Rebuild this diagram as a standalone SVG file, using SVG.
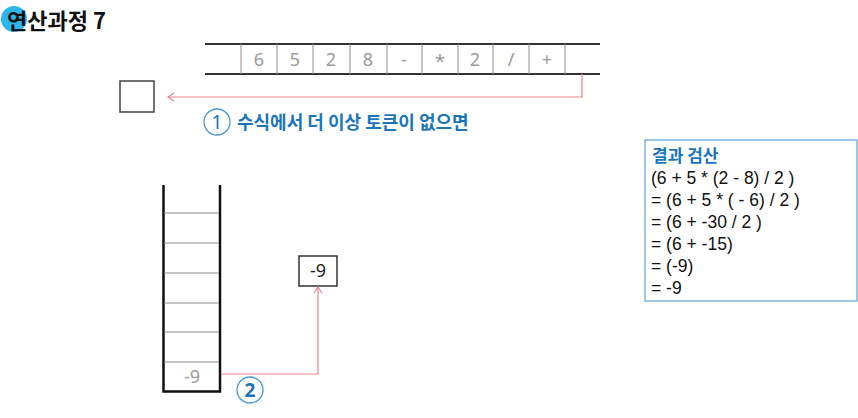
<svg xmlns="http://www.w3.org/2000/svg" width="858" height="418" viewBox="0 0 858 418">
<defs>
<style>
.k{font-family:"Noto Sans CJK KR","Noto Sans",sans-serif}
.tok{font-family:"Noto Sans","Noto Sans CJK KR",sans-serif;font-size:18px;fill:#9a9a9a;text-anchor:middle}
.cell{stroke:#8c8c8c;stroke-width:1}
.rail{stroke:#333;stroke-width:2}
.red{fill:none;stroke:#e8858a;stroke-width:1.2}
.num{fill:#fff;stroke:#4a9ad6;stroke-width:1.3}
.numt{font-family:"Noto Sans","Noto Sans CJK KR",sans-serif;font-size:19px;fill:#1a75bb;text-anchor:middle}
.res{font-family:"Liberation Sans",Arial,sans-serif;font-size:17.5px;fill:#111}
</style>
<marker id="ah" markerWidth="10" markerHeight="10" refX="7" refY="5" orient="auto" markerUnits="userSpaceOnUse">
<path d="M1,1 L7,5 L1,9" fill="none" stroke="#e8858a" stroke-width="1.2"/>
</marker>
</defs>
<rect width="858" height="418" fill="#fff"/>
<g id="title">
<circle cx="14" cy="19" r="13" fill="#2cb5ee"/>
<text x="7" y="29" class="k" font-size="22" font-weight="bold" fill="#111">연산과정 7</text>
</g>
<g id="tokens">
<line class="rail" x1="205" y1="44" x2="600" y2="44"/>
<line class="rail" x1="205" y1="74" x2="600" y2="74"/>
<g class="cell">
<line x1="241" y1="44" x2="241" y2="74"/><line x1="277" y1="44" x2="277" y2="74"/><line x1="313" y1="44" x2="313" y2="74"/><line x1="350" y1="44" x2="350" y2="74"/><line x1="387" y1="44" x2="387" y2="74"/><line x1="422" y1="44" x2="422" y2="74"/><line x1="458" y1="44" x2="458" y2="74"/><line x1="493" y1="44" x2="493" y2="74"/><line x1="529" y1="44" x2="529" y2="74"/><line x1="565" y1="44" x2="565" y2="74"/>
</g>
<text class="tok" x="259" y="66">6</text><text class="tok" x="295" y="66">5</text><text class="tok" x="331" y="66">2</text><text class="tok" x="368" y="66">8</text><text class="tok" x="404" y="66">-</text><text class="tok" x="440" y="68">*</text><text class="tok" x="475" y="66">2</text><text class="tok" x="511" y="66">/</text><text class="tok" x="547" y="66">+</text>
</g>
<g id="result-box">
<rect x="120" y="81" width="34" height="31" fill="#fff" stroke="#444" stroke-width="1.5"/>
</g>
<g id="stack">
<path d="M163.5,185 V391.5 H220 V185" fill="none" stroke="#111" stroke-width="2.5"/>
<g class="cell">
<line x1="164" y1="213" x2="219" y2="213"/><line x1="164" y1="243" x2="219" y2="243"/><line x1="164" y1="273" x2="219" y2="273"/><line x1="164" y1="303" x2="219" y2="303"/><line x1="164" y1="332" x2="219" y2="332"/><line x1="164" y1="362" x2="219" y2="362"/>
</g>
<text class="tok" x="192" y="383">-9</text>
</g>
<g id="output">
<rect x="299" y="256" width="38" height="30" fill="#fff" stroke="#333" stroke-width="1.5"/>
<text x="318" y="277" font-family="Noto Sans,sans-serif" font-size="18" fill="#222" text-anchor="middle">-9</text>
</g>
<g id="connectors">
<path class="red" d="M582,74 V97 H168" marker-end="url(#ah)"/>
<path class="red" d="M221,374 H318 V287" marker-end="url(#ah)"/>
</g>
<g id="step1">
<circle class="num" cx="217" cy="122" r="13"/>
<text class="numt" x="217" y="129">1</text>
<text x="237" y="129" class="k" font-size="18" font-weight="bold" fill="#1a75bb">수식에서 더 이상 토큰이 없으면</text>
</g>
<g id="step2">
<circle class="num" cx="250" cy="390" r="13"/>
<text class="numt" x="250" y="397" font-weight="bold">2</text>
</g>
<g id="check">
<rect x="645" y="140" width="212" height="161" fill="#fff" stroke="#6aa8dc" stroke-width="1.3"/>
<text x="652" y="162" class="k" font-size="17" font-weight="bold" fill="#1a75bb">결과 검산</text>
<text class="res" x="651" y="184">(6 + 5 * (2 - 8) / 2 )</text>
<text class="res" x="651" y="206">= (6 + 5 * ( - 6) / 2 )</text>
<text class="res" x="651" y="228">= (6 + -30 / 2 )</text>
<text class="res" x="651" y="250">= (6 + -15)</text>
<text class="res" x="651" y="272">= (-9)</text>
<text class="res" x="651" y="294">= -9</text>
</g>
</svg>
